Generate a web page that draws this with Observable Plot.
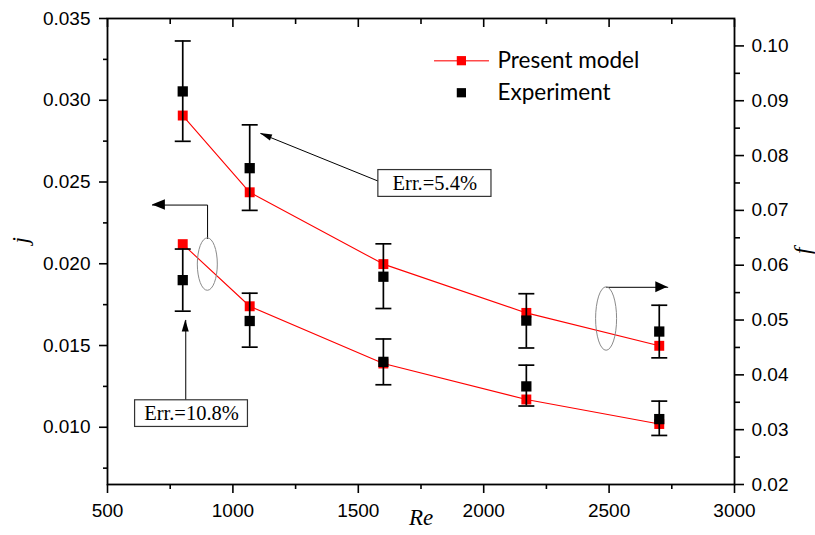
<!DOCTYPE html>
<html><head><meta charset="utf-8">
<script src="https://cdn.jsdelivr.net/npm/d3@7"></script>
<script src="https://cdn.jsdelivr.net/npm/@observablehq/plot@0.6"></script>
<style>html,body{margin:0;padding:0;background:#fff;} #chart{width:815px;height:535px;}</style>
</head><body><div id="chart"></div>
<script>
// ---- data ----
const re = [800, 1067, 1600, 2170, 2700];
const jModel = [0.0212, 0.0174, 0.0139, 0.0117, 0.0102];
const jExp = [0.0190, 0.0165, 0.0140, 0.0125, 0.0105];
const jErrLow = [0.0171, 0.0149, 0.0126, 0.0113, 0.0095];
const jErrHigh = [0.0209, 0.0182, 0.0154, 0.0138, 0.0116];
const fModel = [0.0873, 0.0733, 0.0602, 0.0513, 0.0453];
const fExp = [0.0917, 0.0777, 0.0579, 0.0499, 0.0479];
const fErrLow = [0.0826, 0.0700, 0.0521, 0.0449, 0.0431];
const fErrHigh = [0.1009, 0.0856, 0.0639, 0.0548, 0.0527];

const xTicks = [500, 1000, 1500, 2000, 2500, 3000];
const xMinorTicks = [750, 1250, 1750, 2250, 2750];
const jTicks = [0.010, 0.015, 0.020, 0.025, 0.030, 0.035];
const jMinorTicks = [0.0075, 0.0125, 0.0175, 0.0225, 0.0275, 0.0325];
const fTicks = [0.02, 0.03, 0.04, 0.05, 0.06, 0.07, 0.08, 0.09, 0.10];
const fMinorTicks = [0.025, 0.035, 0.045, 0.055, 0.065, 0.075, 0.085, 0.095];

const seriesNames = ["Present model", "Experiment"];
const errLabels = ["Err.=5.4%", "Err.=10.8%"];
const axisTitles = {x: "Re", left: "j", right: "f"};

const xDomain = [500, 3000];
const jDomain = [0.0065, 0.035];
const fDomain = [0.02, 0.105];
const fToJ = f => jDomain[0] + (f - fDomain[0]) * (jDomain[1] - jDomain[0]) / (fDomain[1] - fDomain[0]);
const jToF = j => fDomain[0] + (j - jDomain[0]) * (fDomain[1] - fDomain[0]) / (jDomain[1] - jDomain[0]);

const jRows = re.map((x, i) => ({x, model: jModel[i], exp: jExp[i], lo: jErrLow[i], hi: jErrHigh[i]}));
const fRows = re.map((x, i) => ({x, model: fToJ(fModel[i]), exp: fToJ(fExp[i]), lo: fToJ(fErrLow[i]), hi: fToJ(fErrHigh[i])}));
const allRows = jRows.concat(fRows);

// ---- annotation anchors (data coordinates) ----
const box54 = {x1: 1580, x2: 2031, y1: 0.02409, y2: 0.02573, tx: 1805, ty: 0.02491, label: errLabels[0]};
const box108 = {x1: 610, x2: 1060, y1: 0.01002, y2: 0.01165, tx: 835, ty: 0.01083, label: errLabels[1]};
const arrows = [
  {x1: 1580, y1: 0.02505, x2: 1110, y2: 0.02797},
  {x1: 812, y1: 0.01165, x2: 812, y2: 0.01656}
];
const leftPointer = [{x: 899, y: 0.02154}, {x: 899, y: 0.02359}, {x: 679, y: 0.02359}];
const rightPointer = [{x: 2490, y: 0.01856}, {x: 2734, y: 0.01856}];
const ellipses = [{x: 900, y: 0.01995, rx: 10, ry: 26.2}, {x: 2490, y: 0.01662, rx: 10.5, ry: 31.7}];
const heads = [
  {from: [1580, 0.02505], to: [1110, 0.02797], L: 12, W: 3.2},
  {from: [812, 0.01165], to: [812, 0.01656], L: 12, W: 3.5},
  {from: [899, 0.02359], to: [679, 0.02359], L: 13, W: 5.3},
  {from: [2490, 0.01856], to: [2734, 0.01856], L: 12, W: 5.5}
];
const legendRows = [
  {x: 1911, y: 0.03242, tx: 2055, line: [1804, 2023], name: seriesNames[0]},
  {x: 1911, y: 0.03046, tx: 2055, name: seriesNames[1]}
];

const capSymbol = {draw(ctx, size) { const w = Math.sqrt(size / Math.PI); ctx.moveTo(-w, 0); ctx.lineTo(w, 0); }};
const serif = "Liberation Serif, Times New Roman, serif";
const sans = "Liberation Sans, Arial, sans-serif";
const tickFont = {fontFamily: sans, fontSize: 19};

const plot = Plot.plot({
  width: 815, height: 535,
  marginLeft: 107, marginRight: 81, marginTop: 18, marginBottom: 51,
  x: {domain: xDomain},
  y: {domain: jDomain},
  style: {fontFamily: sans, fontSize: "19px", color: "#000", background: "#fff"},
  marks: [
    // axes
    Plot.axisX(xTicks, {anchor: "bottom", tickSize: 9, tickPadding: 10, strokeWidth: 1.6, tickFormat: d => String(d), label: null, ...tickFont}),
    Plot.axisX(xMinorTicks, {anchor: "bottom", tickSize: 5, strokeWidth: 1.6, fill: "none", label: null}),
    Plot.axisX(xTicks, {anchor: "top", tickSize: -8, strokeWidth: 1.6, fill: "none", label: null}),
    Plot.axisX(xMinorTicks, {anchor: "top", tickSize: -5, strokeWidth: 1.6, fill: "none", label: null}),
    Plot.axisY(jTicks, {anchor: "left", tickSize: 8, tickPadding: 9, strokeWidth: 1.6, tickFormat: d => d.toFixed(3), label: null, ...tickFont}),
    Plot.axisY(jMinorTicks, {anchor: "left", tickSize: 4, strokeWidth: 1.6, fill: "none", label: null}),
    Plot.axisY(fTicks.map(fToJ), {anchor: "right", tickSize: 9, tickPadding: 8, strokeWidth: 1.6, tickFormat: d => jToF(d).toFixed(2), label: null, ...tickFont}),
    Plot.axisY(fMinorTicks.map(fToJ), {anchor: "right", tickSize: 5, strokeWidth: 1.6, fill: "none", label: null}),
    Plot.frame({stroke: "#000", strokeWidth: 1.8}),
    // axis titles
    Plot.text([axisTitles.x], {frameAnchor: "bottom", dy: 40, fontFamily: serif, fontStyle: "italic", fontSize: 23}),
    Plot.text([axisTitles.left], {frameAnchor: "left", dx: -87, dy: -8, rotate: -90, fontFamily: serif, fontStyle: "italic", fontSize: 23}),
    Plot.text([axisTitles.right], {frameAnchor: "right", dx: 68, dy: -4, rotate: -90, fontFamily: serif, fontStyle: "italic", fontSize: 23}),
    // model lines
    Plot.line(jRows, {x: "x", y: "model", stroke: "#ff0000", strokeWidth: 1.1}),
    Plot.line(fRows, {x: "x", y: "model", stroke: "#ff0000", strokeWidth: 1.1}),
    Plot.dot(allRows, {x: "x", y: "model", symbol: "square", r: 5.6, fill: "#ff0000"}),
    // error bars
    Plot.ruleX(allRows, {x: "x", y1: "lo", y2: "hi", stroke: "#000", strokeWidth: 1.7}),
    Plot.dot(allRows, {x: "x", y: "lo", symbol: capSymbol, r: 8, stroke: "#000", strokeWidth: 1.7, fill: "none"}),
    Plot.dot(allRows, {x: "x", y: "hi", symbol: capSymbol, r: 8, stroke: "#000", strokeWidth: 1.7, fill: "none"}),
    Plot.dot(allRows, {x: "x", y: "exp", symbol: "square", r: 5.8, fill: "#000"}),
    // annotations
    Plot.link(arrows, {x1: "x1", y1: "y1", x2: "x2", y2: "y2", stroke: "#000", strokeWidth: 1}),
    Plot.line(leftPointer, {x: "x", y: "y", stroke: "#000", strokeWidth: 1}),
    Plot.line(rightPointer, {x: "x", y: "y", stroke: "#000", strokeWidth: 1}),
    Plot.rect([box54, box108], {x1: "x1", x2: "x2", y1: "y1", y2: "y2", fill: "#fff", stroke: "#333", strokeWidth: 1.2}),
    Plot.text([box54, box108], {x: "tx", y: "ty", text: "label", fontFamily: serif, fontSize: 20.5}),
    // legend
    Plot.ruleY(legendRows.filter(d => d.line), {y: "y", x1: d => d.line[0], x2: d => d.line[1], stroke: "#ff4a4a", strokeWidth: 1.6}),
    Plot.dot(legendRows, {x: "x", y: "y", symbol: "square", r: 5.2, fill: (d, i) => i === 0 ? "#ff0000" : "#000"}),
    Plot.text(legendRows, {x: "tx", y: "y", text: "name", textAnchor: "start", fontFamily: "Lato, sans-serif", fontSize: 22.5})
  ]
});

// ellipses and filled arrowheads, positioned through the plot's own scales
const sx = plot.scale("x"), sy = plot.scale("y");
const svg = d3.select(plot);
const g = svg.append("g");
for (const e of ellipses) {
  g.append("ellipse").attr("cx", sx.apply(e.x)).attr("cy", sy.apply(e.y))
    .attr("rx", e.rx).attr("ry", e.ry).attr("fill", "none").attr("stroke", "#8a8a8a").attr("stroke-width", 1);
}
for (const h of heads) {
  const fx = sx.apply(h.from[0]), fy = sy.apply(h.from[1]);
  const tx = sx.apply(h.to[0]), ty = sy.apply(h.to[1]);
  const len = Math.hypot(tx - fx, ty - fy);
  const ux = (tx - fx) / len, uy = (ty - fy) / len;
  const nx = -uy, ny = ux;
  const bx = tx - h.L * ux, by = ty - h.L * uy;
  g.append("path")
    .attr("d", `M${tx},${ty}L${bx + h.W * nx},${by + h.W * ny}L${bx - h.W * nx},${by - h.W * ny}Z`)
    .attr("fill", "#000");
}
document.getElementById("chart").appendChild(plot);
</script>
</body></html>
